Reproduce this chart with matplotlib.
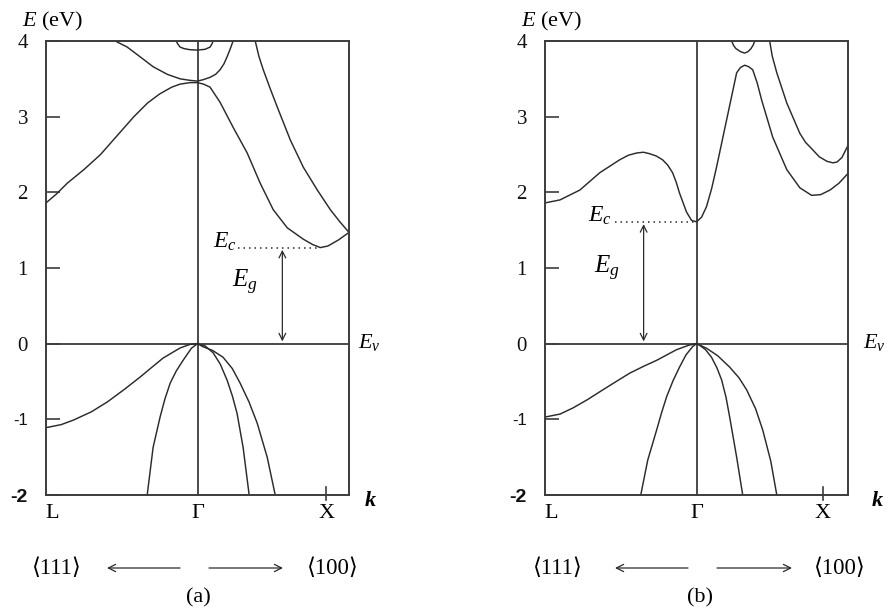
import matplotlib.pyplot as plt
from matplotlib.patches import FancyArrowPatch

plt.rcParams['font.family'] = ['Liberation Serif', 'DejaVu Serif', 'DejaVu Sans']
plt.rcParams['mathtext.fontset'] = 'custom'
plt.rcParams['mathtext.rm'] = 'Liberation Serif'
plt.rcParams['mathtext.it'] = 'Liberation Serif:italic'
plt.rcParams['axes.unicode_minus'] = False

# (a) Si  -- k runs from L (-1) through Gamma (0) to the right edge (+1)
si_cb_low_k = [-1, -0.93, -0.86, -0.75, -0.64, -0.53, -0.42, -0.33, -0.25, -0.17, -0.115, -0.05, 0,
               0.04, 0.083, 0.149, 0.235, 0.328, 0.414, 0.5, 0.593, 0.699, 0.76, 0.811, 0.86,
               0.93, 1.0]
si_cb_low_e = [1.86, 1.98, 2.12, 2.3, 2.5, 2.75, 3.0, 3.18, 3.3, 3.39, 3.43, 3.45, 3.45,
               3.43, 3.39, 3.19, 2.86, 2.52, 2.12, 1.77, 1.53, 1.38, 1.31, 1.27, 1.29,
               1.37, 1.47]
si_cb_steep_k = [0.381, 0.405, 0.434, 0.48, 0.526, 0.613, 0.699, 0.791, 0.877, 0.94, 1.0]
si_cb_steep_e = [4.0, 3.8, 3.62, 3.37, 3.13, 2.69, 2.33, 2.03, 1.77, 1.61, 1.47]
si_cb_u_k = [-0.543, -0.464, -0.378, -0.293, -0.2, -0.115, -0.05, 0, 0.04, 0.083, 0.12,
             0.149, 0.175, 0.195, 0.215, 0.235]
si_cb_u_e = [4.0, 3.92, 3.79, 3.66, 3.56, 3.50, 3.48, 3.47, 3.49, 3.52, 3.56,
             3.62, 3.70, 3.79, 3.89, 4.0]
si_cap_k = [-0.141, -0.13, -0.115, -0.09, -0.05, 0, 0.05, 0.083, 0.095, 0.103]
si_cap_e = [4.0, 3.96, 3.92, 3.9, 3.885, 3.88, 3.89, 3.92, 3.96, 4.0]
si_vb_heavy_k = [-1, -0.9, -0.819, -0.7, -0.595, -0.48, -0.378, -0.3, -0.227, -0.115, -0.05, 0]
si_vb_heavy_e = [-1.11, -1.07, -1.01, -0.9, -0.77, -0.6, -0.44, -0.31, -0.19, -0.057, -0.01, 0]
si_vb_left_k = [0, -0.04, -0.095, -0.14, -0.18, -0.215, -0.247, -0.293, -0.332]
si_vb_left_e = [0, -0.06, -0.22, -0.36, -0.52, -0.73, -0.97, -1.37, -2.0]
si_vb_inner_k = [0, 0.05, 0.103, 0.15, 0.195, 0.23, 0.261, 0.301, 0.341]
si_vb_inner_e = [0, -0.03, -0.12, -0.27, -0.48, -0.69, -0.92, -1.37, -2.0]
si_vb_outer_k = [0, 0.036, 0.1, 0.169, 0.23, 0.281, 0.34, 0.394, 0.46, 0.513]
si_vb_outer_e = [0, -0.04, -0.09, -0.18, -0.33, -0.52, -0.77, -1.05, -1.50, -2.0]
si_ec = 1.27
si_ec_min_k = 0.811
si_x_k = 0.851

# (b) GaAs
gaas_cb_low_k = [-1, -0.901, -0.77, -0.638, -0.507, -0.45, -0.395, -0.35, -0.309, -0.265, -0.224,
                 -0.19, -0.158, -0.135, -0.112, -0.066, -0.033, 0, 0.033, 0.066, 0.1, 0.132,
                 0.199, 0.265, 0.29, 0.318, 0.345, 0.371, 0.4, 0.43, 0.503, 0.596, 0.682,
                 0.76, 0.82, 0.881, 0.94, 1.0]
gaas_cb_low_e = [1.86, 1.90, 2.03, 2.26, 2.43, 2.49, 2.52, 2.53, 2.51, 2.48, 2.43,
                 2.36, 2.26, 2.14, 1.99, 1.74, 1.63, 1.61, 1.67, 1.81, 2.05, 2.33,
                 2.96, 3.58, 3.65, 3.68, 3.66, 3.62, 3.45, 3.22, 2.73, 2.30, 2.06,
                 1.96, 1.97, 2.03, 2.12, 2.25]
gaas_cb_up_k = [0.483, 0.5, 0.53, 0.596, 0.682, 0.72, 0.768, 0.81, 0.861, 0.9, 0.927, 0.96, 1.0]
gaas_cb_up_e = [4.0, 3.8, 3.58, 3.18, 2.78, 2.66, 2.56, 2.47, 2.41, 2.39, 2.40, 2.46, 2.62]
gaas_cap_k = [0.232, 0.245, 0.26, 0.29, 0.318, 0.34, 0.36, 0.375, 0.384]
gaas_cap_e = [4.0, 3.94, 3.90, 3.86, 3.84, 3.86, 3.90, 3.95, 4.0]
gaas_vb_heavy_k = [-1, -0.9, -0.816, -0.72, -0.618, -0.53, -0.441, -0.35, -0.263, -0.132, -0.05, 0]
gaas_vb_heavy_e = [-0.97, -0.93, -0.85, -0.74, -0.61, -0.5, -0.39, -0.3, -0.22, -0.08, -0.02, 0]
gaas_vb_left_k = [0, -0.026, -0.07, -0.112, -0.155, -0.197, -0.23, -0.263, -0.322, -0.368]
gaas_vb_left_e = [0, -0.04, -0.15, -0.31, -0.49, -0.70, -0.91, -1.14, -1.54, -2.0]
gaas_vb_inner_k = [0, 0.02, 0.06, 0.099, 0.135, 0.166, 0.195, 0.219, 0.265, 0.305]
gaas_vb_inner_e = [0, -0.02, -0.08, -0.18, -0.32, -0.48, -0.71, -0.97, -1.50, -2.0]
gaas_vb_outer_k = [0, 0.066, 0.14, 0.219, 0.28, 0.331, 0.39, 0.437, 0.49, 0.53]
gaas_vb_outer_e = [0, -0.06, -0.16, -0.31, -0.45, -0.61, -0.86, -1.14, -1.55, -2.0]
gaas_ec = 1.61
gaas_ec_min_k = 0.0
gaas_x_k = 0.834

y_ticks = [-2, -1, 0, 1, 2, 3, 4]

W, H = 889, 611
INK = '#2b2b2b'
fig = plt.figure(figsize=(W / 100, H / 100), dpi=100)


def panel(x0, bands, ec, ec_from, ec_to, ec_lab_k, eg_k, eg_lab, x_k, ev_x, k_x):
    ax = fig.add_axes([x0 / W, 1 - 495 / H, 303 / W, 454 / H])
    ax.set_xlim(-1, 1)
    ax.set_ylim(-2, 4)
    for s in ax.spines.values():
        s.set_linewidth(1.4)
        s.set_color('#3c3c3c')
    ax.set_xticks([])
    ax.set_yticks(y_ticks)
    ax.set_yticklabels([str(t) for t in y_ticks])
    ax.tick_params(axis='y', direction='in', length=10, width=1.2, pad=13,
                   labelsize=15, color='#3c3c3c', labelcolor='#111')
    labs = ax.get_yticklabels()
    labs[0].set_fontweight('bold')
    labs[0].set_family('Liberation Sans')
    labs[0].set_fontsize(14)
    labs[1].set_family('Liberation Sans')
    labs[1].set_fontsize(12)

    ax.axvline(0, color='#3c3c3c', lw=1.3)
    ax.axhline(0, color='#3c3c3c', lw=1.3)
    for k, e in bands:
        ax.plot(k, e, color=INK, lw=1.05, solid_joinstyle='round')

    # conduction band edge and gap
    ax.plot([ec_from, ec_to], [ec, ec], color=INK, lw=1.1, linestyle=(0, (1, 2.6)))
    ax.text(ec_lab_k, ec, r'$E_c$', fontsize=17, ha='right', va='baseline')
    ax.annotate('', xy=(eg_k, 0.03), xytext=(eg_k, ec - 0.03),
                arrowprops=dict(arrowstyle='<->', lw=0.9, color=INK,
                                shrinkA=0, shrinkB=0, mutation_scale=12))
    ax.text(eg_lab[0], eg_lab[1], r'$E_g$', fontsize=18, ha='center', va='baseline')
    ax.text(ev_x, -0.06, r'$E_v$', fontsize=16, ha='left', va='baseline',
            transform=ax.get_yaxis_transform())
    ax.text(k_x, -2.08, 'k', fontsize=16, fontstyle='italic', fontweight='bold',
            ha='center', va='center', transform=ax.get_yaxis_transform())

    # symmetry points
    ax.plot([x_k, x_k], [-1.9, -2.07], color='#3c3c3c', lw=1.2, clip_on=False)
    for k, s in [(-0.96, 'L'), (0, 'Γ'), (x_k, 'X')]:
        ax.text(k, -2.25, s, fontsize=16, ha='center', va='center')

    fig.text((x0 - 24) / W, 1 - 21 / H, r'$E$ (eV)', fontsize=16, va='center', ha='left')
    return ax


panel(46,
      [(si_cb_low_k, si_cb_low_e), (si_cb_steep_k, si_cb_steep_e), (si_cb_u_k, si_cb_u_e),
       (si_cap_k, si_cap_e), (si_vb_heavy_k, si_vb_heavy_e), (si_vb_left_k, si_vb_left_e),
       (si_vb_inner_k, si_vb_inner_e), (si_vb_outer_k, si_vb_outer_e)],
      si_ec, 0.27, si_ec_min_k, 0.26, 0.56, (0.315, 0.75), si_x_k, 1.03, 1.07)
panel(545,
      [(gaas_cb_low_k, gaas_cb_low_e), (gaas_cb_up_k, gaas_cb_up_e), (gaas_cap_k, gaas_cap_e),
       (gaas_vb_heavy_k, gaas_vb_heavy_e), (gaas_vb_left_k, gaas_vb_left_e),
       (gaas_vb_inner_k, gaas_vb_inner_e), (gaas_vb_outer_k, gaas_vb_outer_e)],
      gaas_ec, -0.54, gaas_ec_min_k, -0.56, -0.349, (-0.59, 0.93), gaas_x_k, 1.05, 1.096)

# direction labels under each panel
y_dir = 1 - 568 / H
for x111, a_start, a_end, b_start, b_end, x100, xtag, tag in [
        (57, 180, 107, 209, 283, 333, 198, '(a)'),
        (558, 688, 615, 717, 792, 840, 700, '(b)')]:
    fig.text(x111 / W, y_dir, '⟨111⟩', fontsize=16.5, ha='center', va='center')
    fig.text(x100 / W, y_dir, '⟨100⟩', fontsize=16.5, ha='center', va='center')
    for p, q in [(a_start, a_end), (b_start, b_end)]:
        fig.add_artist(FancyArrowPatch((p / W, y_dir), (q / W, y_dir),
                                       transform=fig.transFigure, arrowstyle='->',
                                       mutation_scale=13, lw=0.9, color=INK,
                                       shrinkA=0, shrinkB=0))
    fig.text(xtag / W, 1 - 598 / H, tag, fontsize=16, ha='center', va='center')

fig.savefig('out.png', dpi=100)
